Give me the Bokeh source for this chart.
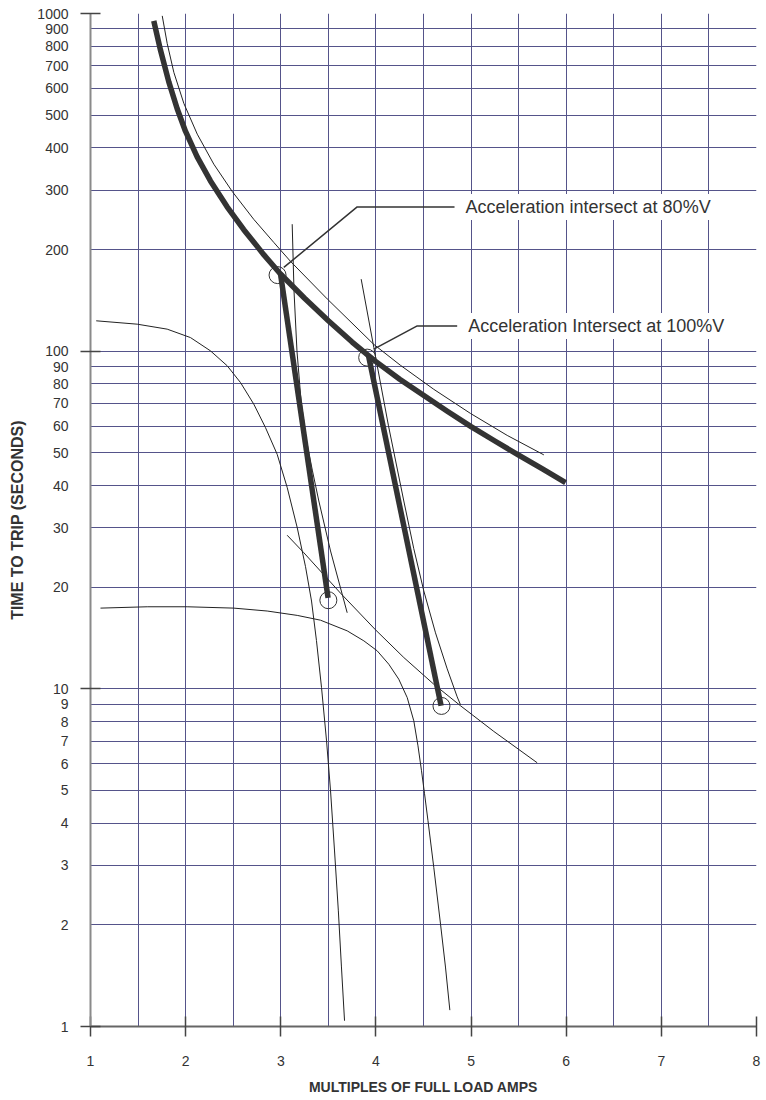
from bokeh.plotting import figure
from bokeh.models import FixedTicker, Range1d, Label, CustomJSTickFormatter
from bokeh.embed import file_html
from bokeh.resources import INLINE

# ---------------- data ----------------
x_ticks = [1, 2, 3, 4, 5, 6, 7, 8]
x_minor = [1.5, 2.5, 3.5, 4.5, 5.5, 6.5, 7.5]
y_ticks = [1, 2, 3, 4, 5, 6, 7, 8, 9,
           10, 20, 30, 40, 50, 60, 70, 80, 90,
           100, 200, 300, 400, 500, 600, 700, 800, 900, 1000]
y_decades = [1, 10, 100, 1000]

# thermal overload trip curve (thick)
trip_x = [1.665, 1.736, 1.823, 1.911, 1.998, 2.121, 2.261, 2.436, 2.611, 2.821, 2.997,
          3.25, 3.5, 3.75, 3.922, 4.0, 4.25, 4.5, 4.75, 5.0, 5.25, 5.5, 5.75, 5.993]
trip_y = [951, 778, 627.4, 522.2, 448.2, 376.0, 319.3, 267.7, 229.0, 193.1, 169.3,
          143.5, 123, 106.4, 97.0, 93.1, 82.6, 74.0, 66.4, 59.8, 54.2, 49.2, 44.8, 40.8]

# thin curve above the trip curve
upper_x = [1.754, 1.806, 1.876, 1.981, 2.122, 2.296, 2.489, 2.716, 2.926, 3.102,
           3.488, 3.978, 4.258, 4.608, 4.994, 5.38, 5.765]
upper_y = [984, 815.6, 669.2, 541.8, 439.2, 357.9, 297.3, 245.7, 210.0, 184.5,
           142.8, 104.7, 90.8, 77.1, 65.4, 56.3, 49.3]

# thin acceleration curve (upper, flat ~120 s)
a_x = [1.060, 1.491, 1.806, 2.051, 2.261, 2.437, 2.577, 2.716, 2.839, 2.962, 3.067,
       3.173, 3.260, 3.323, 3.375, 3.428, 3.481, 3.523, 3.565, 3.605, 3.637, 3.670]
a_y = [123.0, 120.2, 116.2, 109.7, 100.2, 90.5, 80.7, 69.7, 59.4, 49.5, 39.5,
       30.0, 23.0, 18.2, 13.9, 10.1, 7.01, 4.99, 3.31, 2.20, 1.51, 1.04]

# thin acceleration curve (lower, flat ~17 s)
b_x = [1.105, 1.596, 2.016, 2.506, 2.857, 3.173, 3.417, 3.698, 3.873, 4.013, 4.135,
       4.240, 4.329, 4.398, 4.442, 4.479, 4.511, 4.547, 4.608, 4.679, 4.731, 4.777]
b_y = [17.34, 17.5, 17.5, 17.34, 17.0, 16.5, 15.97, 14.85, 13.87, 12.96, 11.83,
       10.68, 9.42, 8.04, 6.78, 5.72, 4.89, 4.07, 2.96, 2.01, 1.50, 1.118]

# thin diagonal curve
c_x = [3.067, 3.242, 3.628, 3.996, 4.293, 4.608, 4.889, 5.239, 5.695]
c_y = [28.5, 25.3, 19.2, 14.95, 12.38, 10.32, 8.91, 7.48, 6.04]

# thin steep curve near 80%V line
d_x = [3.120, 3.139, 3.170, 3.213, 3.270, 3.333, 3.400, 3.523, 3.698]
d_y = [237.7, 150.9, 100.2, 71.3, 54.3, 44.2, 36.0, 25.6, 16.8]

# thin steep curve near 100%V line
e_x = [3.845, 3.978, 4.132, 4.293, 4.398, 4.503, 4.626, 4.749, 4.854, 4.889]
e_y = [163.4, 102.5, 60.1, 36.0, 26.0, 19.5, 14.65, 11.46, 9.47, 8.97]

# thick acceleration lines
acc80_x = [2.997, 3.497]
acc80_y = [169.3, 18.6]
acc100_x = [3.922, 4.685]
acc100_y = [97.0, 8.91]

# circled intersection points
circ_x = [2.966, 3.50, 3.908, 4.689]
circ_y = [168, 18.3, 95.7, 8.9]

# leader lines for the callouts
lead80_x = [3.032, 3.803, 4.826]
lead80_y = [177, 267.4, 267.4]
lead100_x = [3.978, 4.434, 4.854]
lead100_y = [101.4, 118.8, 118.8]

label80 = "Acceleration intersect at 80%V"
label100 = "Acceleration Intersect at 100%V"

# ---------------- styles ----------------
FONT = "Liberation Sans"
GRID = "#55548a"
INK = "#333333"

p = figure(frame_width=666, frame_height=1013,
           x_range=Range1d(1, 8), y_range=Range1d(1, 1000),
           y_axis_type="log", output_backend="svg", toolbar_location=None,
           min_border_left=90, min_border_right=8, min_border_top=13, min_border_bottom=74)
p.outline_line_color = None
p.background_fill_color = "white"
p.border_fill_color = "white"

xt = FixedTicker(ticks=x_ticks, minor_ticks=x_minor)
yt = FixedTicker(ticks=y_ticks, minor_ticks=y_decades)

xa = p.xaxis[0]
xa.ticker = xt
xa.major_tick_in = 10
xa.major_tick_out = 10
xa.major_tick_line_color = "#444444"
xa.major_tick_line_width = 1.5
xa.minor_tick_line_color = None
xa.axis_line_color = "#666666"
xa.axis_line_width = 2
xa.major_label_text_font = FONT
xa.major_label_text_font_size = "14px"
xa.major_label_text_color = INK
xa.major_label_standoff = 19
xa.axis_label = "MULTIPLES OF FULL LOAD AMPS"
xa.axis_label_text_font = FONT
xa.axis_label_text_font_style = "bold"
xa.axis_label_text_font_size = "14px"
xa.axis_label_text_color = INK
xa.axis_label_standoff = 10

ya = p.yaxis[0]
ya.ticker = yt
ya.formatter = CustomJSTickFormatter(code="return tick.toFixed(0)")
ya.major_tick_line_color = None
ya.major_tick_in = 0
ya.major_tick_out = 10
ya.minor_tick_in = 10
ya.minor_tick_out = 10
ya.minor_tick_line_color = "#444444"
ya.minor_tick_line_width = 1.5
ya.axis_line_color = "#8a8a8a"
ya.axis_line_width = 2
ya.major_label_text_font = FONT
ya.major_label_text_font_size = "14px"
ya.major_label_text_color = INK
ya.major_label_standoff = 12
ya.axis_label = "TIME TO TRIP (SECONDS)"
ya.axis_label_text_font = FONT
ya.axis_label_text_font_style = "bold"
ya.axis_label_text_font_size = "16px"
ya.axis_label_text_color = INK
ya.axis_label_standoff = 8

p.xgrid.ticker = xt
p.xgrid.grid_line_color = GRID
p.xgrid.minor_grid_line_color = GRID
p.xgrid.grid_line_width = 1
p.ygrid.ticker = FixedTicker(ticks=y_ticks)
p.ygrid.grid_line_color = GRID
p.ygrid.grid_line_width = 1

# thin curves
for xs, ys in [(upper_x, upper_y), (a_x, a_y), (b_x, b_y), (c_x, c_y), (d_x, d_y), (e_x, e_y)]:
    p.line(xs, ys, line_color="#222222", line_width=1, line_join="round")

# thick curves
p.line(trip_x, trip_y, line_color=INK, line_width=5.5, line_join="round")
p.line(acc80_x, acc80_y, line_color=INK, line_width=5.5)
p.line(acc100_x, acc100_y, line_color=INK, line_width=5.5)

# circles
p.scatter(circ_x, circ_y, marker="circle", size=17, fill_color=None, line_color=INK, line_width=1)

# leader lines
p.line(lead80_x, lead80_y, line_color=INK, line_width=1.5)
p.line(lead100_x, lead100_y, line_color=INK, line_width=1.5)

for lx, ly, txt in [(lead80_x[-1], lead80_y[-1], label80), (lead100_x[-1], lead100_y[-1], label100)]:
    p.add_layout(Label(x=lx, y=ly, text=txt, x_offset=8, text_baseline="middle",
                       text_font=FONT, text_font_size="18px", text_color=INK,
                       background_fill_color="white", padding=3))

open("out.html", "w").write(file_html(p, INLINE))
